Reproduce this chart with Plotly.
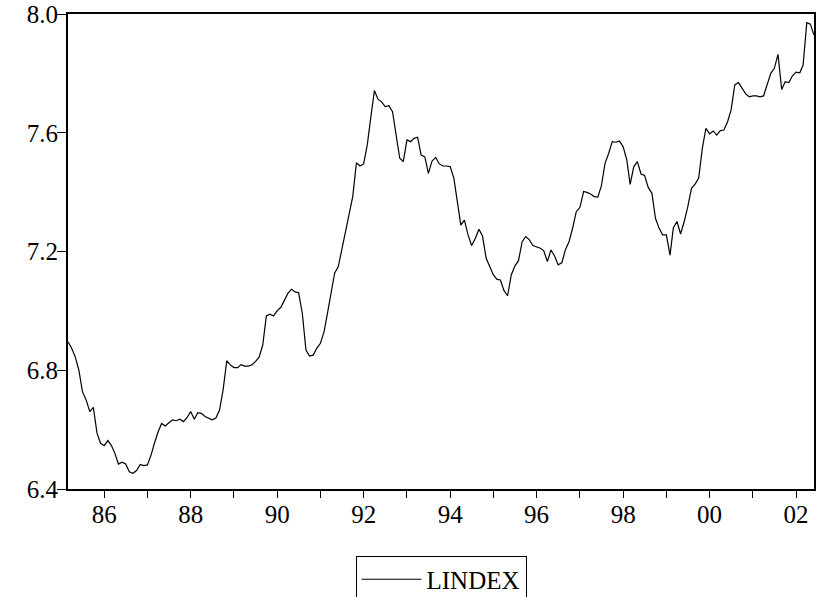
import plotly.graph_objects as go
import pandas as pd

# Monthly series LINDEX, 1985:03 - 2002:06
start_month = "1985-03-01"
lindex = [
    6.896, 6.874, 6.845, 6.800, 6.728, 6.700, 6.661, 6.675, 6.588, 6.554,
    6.546, 6.563, 6.548, 6.520, 6.484, 6.490, 6.484, 6.458, 6.453, 6.462,
    6.483, 6.479, 6.481, 6.515, 6.554, 6.593, 6.621, 6.612, 6.623, 6.633,
    6.630, 6.635, 6.627, 6.640, 6.661, 6.635, 6.657, 6.655, 6.644, 6.637,
    6.633, 6.639, 6.666, 6.734, 6.832, 6.818, 6.809, 6.809, 6.819, 6.814,
    6.814, 6.818, 6.829, 6.844, 6.885, 6.983, 6.989, 6.983, 7.001, 7.012,
    7.037, 7.059, 7.073, 7.064, 7.061, 6.992, 6.868, 6.848, 6.851, 6.874,
    6.891, 6.930, 6.991, 7.065, 7.127, 7.149, 7.205, 7.270, 7.330, 7.385,
    7.499, 7.488, 7.495, 7.560, 7.650, 7.742, 7.713, 7.704, 7.688, 7.691,
    7.671, 7.587, 7.514, 7.503, 7.576, 7.570, 7.581, 7.585, 7.525, 7.519,
    7.463, 7.505, 7.517, 7.495, 7.488, 7.488, 7.486, 7.447, 7.374, 7.289,
    7.306, 7.256, 7.220, 7.244, 7.275, 7.252, 7.177, 7.149, 7.121, 7.106,
    7.104, 7.068, 7.051, 7.121, 7.151, 7.169, 7.233, 7.250, 7.239, 7.220,
    7.216, 7.211, 7.203, 7.166, 7.205, 7.185, 7.155, 7.162, 7.207, 7.233,
    7.280, 7.334, 7.349, 7.402, 7.399, 7.394, 7.385, 7.383, 7.421, 7.497,
    7.531, 7.570, 7.568, 7.572, 7.553, 7.508, 7.426, 7.486, 7.503, 7.461,
    7.456, 7.416, 7.396, 7.312, 7.278, 7.256, 7.256, 7.188, 7.280, 7.301,
    7.259, 7.301, 7.351, 7.413, 7.427, 7.447, 7.548, 7.615, 7.596, 7.606,
    7.592, 7.607, 7.609, 7.637, 7.677, 7.761, 7.769, 7.750, 7.731, 7.721,
    7.724, 7.724, 7.721, 7.724, 7.764, 7.800, 7.817, 7.864, 7.746, 7.772,
    7.769, 7.792, 7.804, 7.802, 7.828, 7.971, 7.966, 7.929,
]
dates = pd.date_range(start_month, periods=len(lindex), freq="MS")

major_years = [1986, 1988, 1990, 1992, 1994, 1996, 1998, 2000, 2002]
major_labels = ["86", "88", "90", "92", "94", "96", "98", "00", "02"]
minor_years = [1987, 1989, 1991, 1993, 1995, 1997, 1999, 2001]
y_ticks = [6.4, 6.8, 7.2, 7.6, 8.0]
y_labels = ["6.4", "6.8", "7.2", "7.6", "8.0"]

FONT = "Liberation Serif"

fig = go.Figure()
fig.add_trace(go.Scatter(
    x=dates, y=lindex, mode="lines", name="LINDEX",
    line=dict(color="black", width=1.2),
))

fig.update_layout(
    width=826, height=597,
    margin=dict(l=68, r=12, t=14, b=108, autoexpand=False),
    paper_bgcolor="white", plot_bgcolor="white",
    font=dict(family=FONT, size=25, color="black"),
    showlegend=True,
    legend=dict(
        orientation="h", x=0.5, xanchor="center", y=-0.140, yanchor="top",
        bordercolor="black", borderwidth=1, bgcolor="white",
        font=dict(family=FONT, size=25, color="black"),
        itemwidth=60,
    ),
)

fig.update_xaxes(
    range=[dates[0], dates[-1]],
    automargin=False,
    tickmode="array",
    tickvals=[pd.Timestamp(f"{y}-01-01") for y in major_years],
    ticktext=major_labels,
    ticks="outside", ticklen=7, tickwidth=1, tickcolor="black",
    ticklabelstandoff=-5,
    minor=dict(
        tickmode="array",
        tickvals=[pd.Timestamp(f"{y}-01-01") for y in minor_years],
        ticks="outside", ticklen=7, tickwidth=1, tickcolor="black",
    ),
    showgrid=False, zeroline=False,
    showline=True, linecolor="black", linewidth=2, mirror=True,
    tickfont=dict(family=FONT, size=25, color="black"),
)
fig.update_yaxes(
    range=[6.4, 8.0],
    automargin=False,
    tickmode="array", tickvals=y_ticks, ticktext=y_labels,
    ticks="outside", ticklen=9, tickwidth=1, tickcolor="black",
    ticklabelstandoff=-6,
    showgrid=False, zeroline=False,
    showline=True, linecolor="black", linewidth=2, mirror=True,
    tickfont=dict(family=FONT, size=25, color="black"),
)

fig.write_html("out.html")
